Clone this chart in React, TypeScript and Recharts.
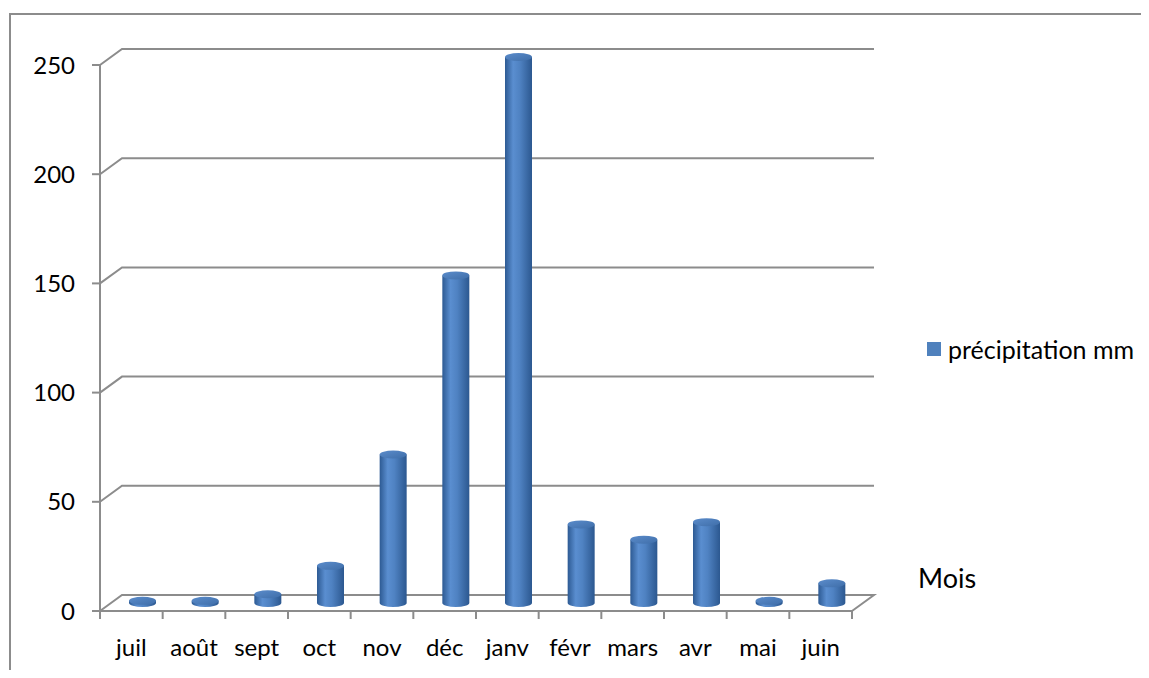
import React from 'react';
import { BarChart, Bar, XAxis, YAxis, CartesianGrid, Legend } from 'recharts';

const months = ['juil', 'août', 'sept', 'oct', 'nov', 'déc', 'janv', 'févr', 'mars', 'avr', 'mai', 'juin'];
const precipitation = [1, 1, 4, 17, 68, 150, 250, 36, 29, 37, 1, 9];
const yTicks = [0, 50, 100, 150, 200, 250];

const data = months.map((mois, i) => ({ mois, precipitation: precipitation[i] }));

const WIDTH = 1141;
const HEIGHT = 662;
const MARGIN = { top: 57, right: 297, bottom: 19, left: 32 };
const Y_AXIS_WIDTH = 60;
const X_AXIS_HEIGHT = 40;
const PLOT_LEFT = MARGIN.left + Y_AXIS_WIDTH;
const PLOT_RIGHT = WIDTH - MARGIN.right;
const PLOT_BOTTOM = HEIGHT - MARGIN.bottom - X_AXIS_HEIGHT;
const BAND = (PLOT_RIGHT - PLOT_LEFT) / months.length;

// depth of the 3D box (back wall offset)
const DX = 22;
const DY = -16;

const LINE = '#8c8c8c';
const FONT = 'Lato, "Open Sans", sans-serif';

// gridline: short diagonal from the front axis, then along the back wall
const gridLine = (p: any) => {
  const { x1, y1, x2, key } = p;
  const floor = Math.abs(y1 - PLOT_BOTTOM) < 1;
  let d = `M${x1},${y1} L${x1 + DX},${y1 + DY} L${x2 + DX},${y1 + DY}`;
  if (floor) d += ` L${x2},${y1}`;
  return <path key={key} d={d} fill="none" stroke={LINE} strokeWidth={2} />;
};

// cylinder bar sitting in the middle of the floor depth
const Cylinder = (props: any) => {
  const { x, y, width, height } = props;
  const rx = width / 2;
  const ry = 4;
  const cx = x + rx + DX / 2;
  const top = y + DY / 2;
  const bottom = y + height + DY / 2;
  return (
    <g>
      <path
        d={`M${cx - rx},${top} L${cx - rx},${bottom} A${rx},${ry} 0 0 0 ${cx + rx},${bottom} L${cx + rx},${top} Z`}
        fill="url(#cylSide)"
      />
      <ellipse cx={cx} cy={top} rx={rx} ry={ry} fill="url(#cylTop)" />
    </g>
  );
};

const MonthTick = (props: any) => {
  const { x, payload, index } = props;
  const left = x - BAND / 2;
  const right = x + BAND / 2;
  return (
    <g>
      <line x1={left} y1={PLOT_BOTTOM} x2={left} y2={PLOT_BOTTOM + 8} stroke={LINE} strokeWidth={2} />
      {index === months.length - 1 && (
        <line x1={right} y1={PLOT_BOTTOM} x2={right} y2={PLOT_BOTTOM + 8} stroke={LINE} strokeWidth={2} />
      )}
      <text x={x} y={PLOT_BOTTOM + 45} textAnchor="middle" fill="#000" fontSize={24} fontFamily={FONT}>
        {payload.value}
      </text>
    </g>
  );
};

const LegendContent = () => (
  <div style={{ display: 'flex', alignItems: 'center', fontFamily: FONT, fontSize: 25, color: '#000' }}>
    <span style={{ width: 14, height: 14, background: '#4f81bd', marginRight: 7, display: 'inline-block' }} />
    précipitation mm
  </div>
);

export default function App() {
  return (
    <div style={{ position: 'relative', width: WIDTH, height: HEIGHT }}>
      <style>{'body { overflow: hidden; }'}</style>
      <BarChart width={WIDTH} height={HEIGHT} data={data} margin={MARGIN}>
        <defs>
          <linearGradient id="cylSide" x1="0" y1="0" x2="1" y2="0">
            <stop offset="0%" stopColor="#2d5a93" />
            <stop offset="30%" stopColor="#5a8ed0" />
            <stop offset="55%" stopColor="#4f82c2" />
            <stop offset="100%" stopColor="#2c5890" />
          </linearGradient>
          <linearGradient id="cylTop" x1="0" y1="0" x2="1" y2="1">
            <stop offset="0%" stopColor="#5b8ccb" />
            <stop offset="100%" stopColor="#3f6ea9" />
          </linearGradient>
        </defs>
        <CartesianGrid vertical={false} horizontal={gridLine} />
        <XAxis
          dataKey="mois"
          height={X_AXIS_HEIGHT}
          interval={0}
          tickLine={false}
          axisLine={{ stroke: LINE, strokeWidth: 2 }}
          tick={<MonthTick />}
          label={{
            content: () => (
              <text x={910} y={580} fill="#000" fontSize={27} fontFamily={FONT}>
                Mois
              </text>
            ),
          }}
        />
        <YAxis
          width={Y_AXIS_WIDTH}
          domain={[0, 250]}
          ticks={yTicks}
          interval={0}
          tickSize={8}
          tickMargin={17}
          tickLine={{ stroke: LINE, strokeWidth: 2 }}
          axisLine={{ stroke: LINE, strokeWidth: 2 }}
          tick={{ fill: '#000', fontSize: 24, fontFamily: FONT }}
        />
        <Legend
          layout="horizontal"
          verticalAlign="middle"
          align="center"
          content={<LegendContent />}
          wrapperStyle={{ left: 919, top: 326, width: 222 }}
        />
        <Bar dataKey="precipitation" name="précipitation mm" barSize={27} shape={<Cylinder />} isAnimationActive={false} />
      </BarChart>
      <div
        style={{
          position: 'absolute',
          left: 1,
          top: 5,
          right: 0,
          bottom: -8,
          borderTop: `2px solid ${LINE}`,
          borderLeft: `2px solid ${LINE}`,
          pointerEvents: 'none',
        }}
      />
    </div>
  );
}
